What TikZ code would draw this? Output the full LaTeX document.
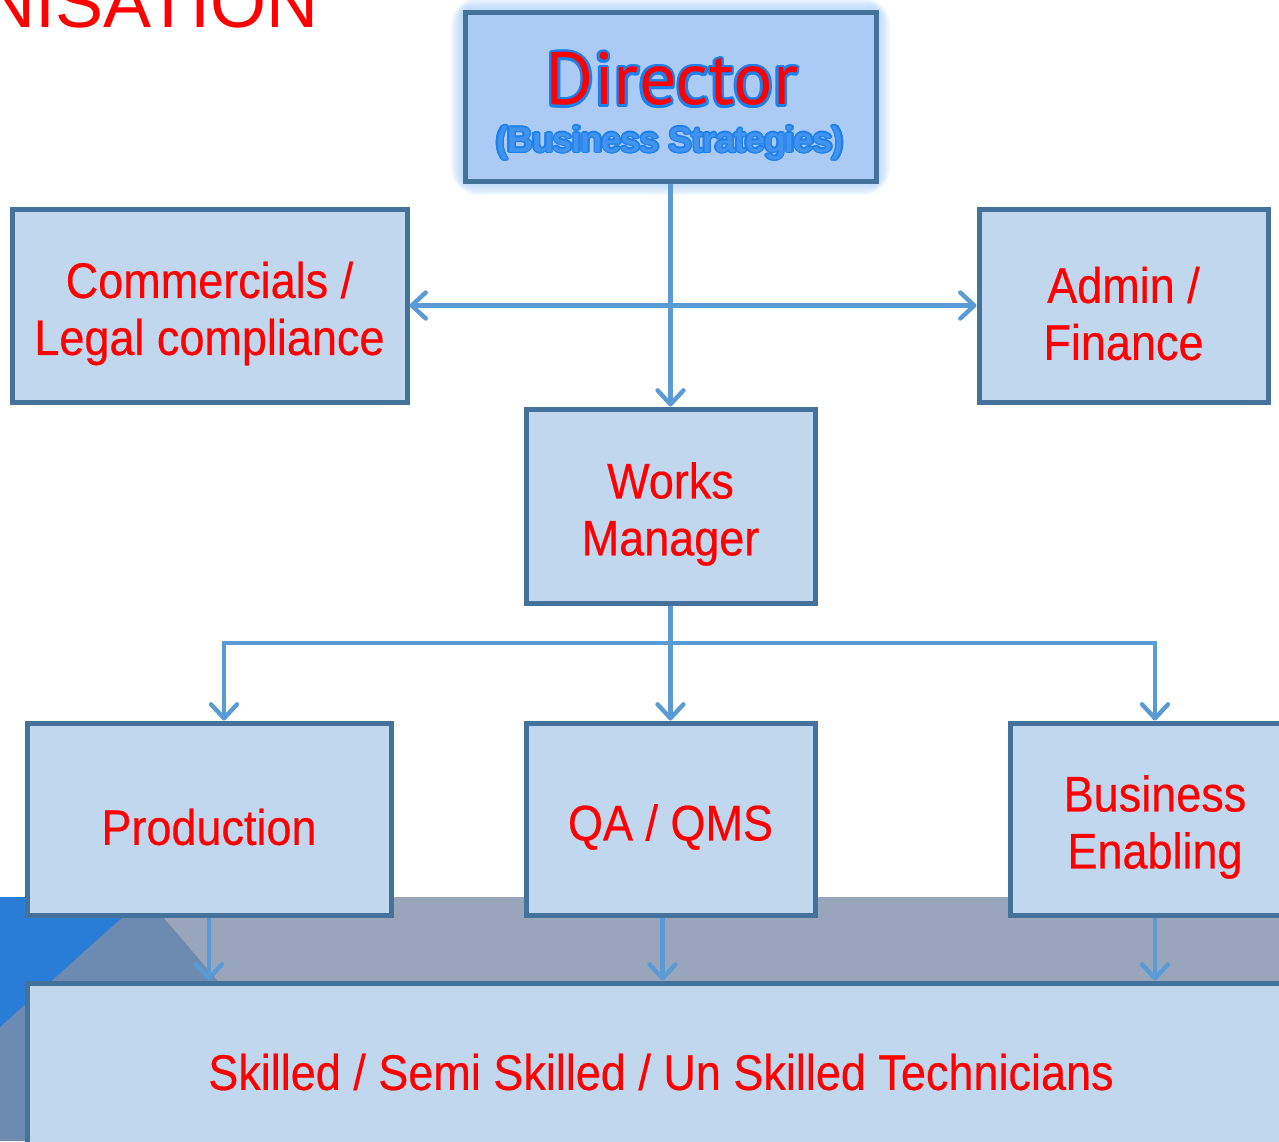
\documentclass[tikz,border=0pt]{standalone}
\usepackage{fontspec}
\setmainfont{PT Sans}
\newfontfamily\titlefont{Liberation Sans}
\newfontfamily\boxfont[FakeStretch=0.9,FakeBold=0.4]{Liberation Sans}
\newfontfamily\subfont[LetterSpace=-3]{Liberation Sans}
\usetikzlibrary{arrows.meta}
\definecolor{boxfill}{HTML}{C0D7EE}
\definecolor{boxline}{HTML}{45729A}
\definecolor{arrowc}{HTML}{5B9BD5}
\definecolor{dirfill}{HTML}{ABCBF5}
\definecolor{glowc}{HTML}{8EC1F7}
\definecolor{dirblue}{HTML}{1E80EC}
\definecolor{bandgrey}{HTML}{98A5BB}
\definecolor{bandmid}{HTML}{6D8BB1}
\definecolor{bandblue}{HTML}{2A7DD6}
\begin{document}
\begin{tikzpicture}[x=0.5pt,y=-0.5pt,
	box/.style={draw=boxline,fill=boxfill,line width=2.5pt,inner sep=0pt},
	boxtext/.style={align=center,text=red,inner sep=0pt,yshift=-4pt,
		font=\boxfont\fontsize{25}{28.5}\selectfont},
	arr/.style={draw=arrowc,line width=2.2pt},
	>={Straight Barb[length=7pt,width=13pt,round]}]
	\useasboundingbox (0,0) rectangle (1279,1141);
	%背景
	\fill[bandgrey] (0,897) rectangle (1279,1141);
	\fill[bandmid] (0,897) -- (146,897) -- (354,1141) -- (0,1141) -- cycle;
	\fill[bandblue] (0,897) -- (145,897) -- (0,1027) -- cycle;
	\node[anchor=base east,text=red,inner sep=0pt,
		font=\titlefont\fontsize{36}{36}\selectfont] (title) at (319,27) {NISATION};
	%Director
	\foreach \g in {14,12,...,2}
	{
		\fill[glowc,opacity=0.12,rounded corners=\g pt] ({465-\g},{12-\g}) rectangle ({876+\g},{181+\g});
	}
	\node[box,fill=dirfill,minimum width=205.5pt,minimum height=84.5pt] (dir) at (670.5,96.5) {};
	\foreach \a in {0,30,...,330}
	{
		\node[text=dirblue,font=\fontsize{37}{37}\selectfont,shift={(\a:1.3pt)}] at (672,79) {Director};
		\node[text=dirblue,font=\subfont\bfseries\fontsize{18}{18}\selectfont,shift={(\a:0.7pt)}] at (670,143) {(Business Strategies)};
	}
	\node[text=red,font=\fontsize{37}{37}\selectfont] (dirname) at (672,79) {Director};
	\node[text=dirblue!85!white,font=\subfont\bfseries\fontsize{18}{18}\selectfont] (dirsub) at (670,143) {(Business Strategies)};
	%方框
	\node[box,minimum width=197.5pt,minimum height=96.5pt,
		label={[boxtext,name=commtxt]center:{Commercials /\\Legal compliance}}] (comm) at (209.5,305.5) {};
	\node[box,minimum width=144.5pt,minimum height=96.5pt,
		label={[boxtext,name=admintxt]center:{Admin /\\Finance}}] (admin) at (1123.5,305.5) {};
	\node[box,minimum width=144.5pt,minimum height=97pt,
		label={[boxtext,name=workstxt]center:{Works\\Manager}}] (works) at (670.5,506) {};
	\node[box,minimum width=182pt,minimum height=96pt,
		label={[boxtext,name=prodtxt]center:{Production}}] (prod) at (209,819) {};
	\node[box,minimum width=144.5pt,minimum height=96pt,
		label={[boxtext,name=qatxt]center:{QA / QMS}}] (qa) at (670.5,819) {};
	\node[box,minimum width=145pt,minimum height=96pt,
		label={[boxtext,name=betxt]center:{Business\\Enabling}}] (be) at (1155,819) {};
	\node[box,minimum width=634pt,minimum height=85pt,
		label={[boxtext,yshift=2pt,name=skilltxt]center:{Skilled / Semi Skilled / Un Skilled Technicians}}] (skill) at (661,1068) {};
	%箭头
	\coordinate (J) at (670.5,643);
	\draw[arr,->] (dir.south) -- (works.north);
	\draw[arr,<->] (comm.east) -- (admin.west);
	\draw[arr] (works.south) -- (J);
	\draw[arr,->] (J) -| ([xshift=7.5pt]prod.north);
	\draw[arr,->] (J) -- (qa.north);
	\draw[arr,->] (J) -| (be.north);
	\draw[arr,->] (prod.south) -- (prod.south |- skill.north);
	\draw[arr,->] ([xshift=-4pt]qa.south) -- ([xshift=-4pt]qa.south |- skill.north);
	\draw[arr,->] (be.south) -- (be.south |- skill.north);
\end{tikzpicture}
\end{document}
